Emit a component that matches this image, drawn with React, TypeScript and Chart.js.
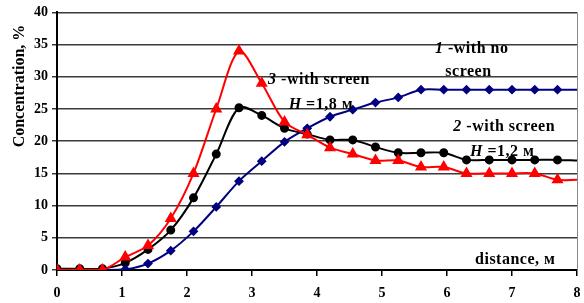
import React, { useEffect, useRef } from "react";
import { Chart, registerables } from "chart.js";

Chart.register(...registerables);

const distance = [0, 0.35, 0.7, 1.05, 1.4, 1.75, 2.1, 2.45, 2.8, 3.15, 3.5, 3.85, 4.2, 4.55, 4.9, 5.25, 5.6, 5.95, 6.3, 6.65, 7.0, 7.35, 7.7, 8];
const noScreen = [0, 0, 0, 0.1, 1, 3, 6, 9.8, 13.8, 16.9, 19.9, 22, 23.8, 24.9, 26, 26.8, 28, 28, 28, 28, 28, 28, 28, 28];
const screen12 = [0.2, 0.2, 0.2, 1.1, 3.2, 6.2, 11.2, 18, 25.2, 24, 22, 21.1, 20.2, 20.2, 19.1, 18.2, 18.2, 18.2, 17.1, 17.1, 17.1, 17.1, 17.1, 17];
const screen18 = [0, 0, 0, 2, 3.8, 8, 15, 25, 34, 29, 23, 21, 19, 18, 17, 17, 16, 16, 15, 15, 15, 15, 14, 14];
const xTicks = [0, 1, 2, 3, 4, 5, 6, 7, 8];
const yTicks = [0, 5, 10, 15, 20, 25, 30, 35, 40];

const FONT = "'Liberation Serif', 'Times New Roman', serif";

type Seg = { t: string; i?: boolean };
const notes: { x: number; y: number; segs: Seg[] }[] = [
  { x: 4.03, y: 29.5, segs: [{ t: "3", i: true }, { t: " -with screen" }] },
  { x: 4.06, y: 25.7, segs: [{ t: "H", i: true }, { t: " =1,8 м" }] },
  { x: 6.38, y: 34.3, segs: [{ t: "1", i: true }, { t: " -with no" }] },
  { x: 6.33, y: 30.8, segs: [{ t: "screen" }] },
  { x: 6.88, y: 22.3, segs: [{ t: "2", i: true }, { t: " -with screen" }] },
  { x: 6.85, y: 18.3, segs: [{ t: "H", i: true }, { t: " =1,2 м" }] },
  { x: 7.05, y: 1.5, segs: [{ t: "distance, м" }] },
];

const toPts = (ys: number[]) => distance.map((x, k) => ({ x, y: ys[k] }));
const radii = (r: number) => distance.map((_, k) => (k === distance.length - 1 ? 0 : r));

const overlay = {
  id: "overlay",
  afterDraw(chart: any) {
    const ctx = chart.ctx;
    const { right, top, bottom } = chart.chartArea;
    const xs = chart.scales.x;
    const ys = chart.scales.y;
    ctx.save();
    ctx.strokeStyle = "#888";
    ctx.lineWidth = 1;
    ctx.beginPath();
    ctx.moveTo(right + 0.5, top);
    ctx.lineTo(right + 0.5, bottom);
    ctx.stroke();
    ctx.fillStyle = "#000";
    ctx.font = `bold 16px ${FONT}`;
    ctx.textAlign = "center";
    ctx.textBaseline = "middle";
    ctx.translate(20, 86);
    ctx.rotate(-Math.PI / 2);
    ctx.fillText("Concentration, %", 0, 0);
    ctx.restore();

    ctx.save();
    ctx.fillStyle = "#000";
    ctx.textBaseline = "middle";
    ctx.textAlign = "left";
    try { (ctx as any).letterSpacing = "0.5px"; } catch (e) {}
    for (const n of notes) {
      const fonts = n.segs.map((s) => `${s.i ? "italic " : ""}bold 16px ${FONT}`);
      let total = 0;
      const widths = n.segs.map((s, k) => {
        ctx.font = fonts[k];
        const w = ctx.measureText(s.t).width;
        total += w;
        return w;
      });
      let px = xs.getPixelForValue(n.x) - total / 2;
      const py = ys.getPixelForValue(n.y);
      n.segs.forEach((s, k) => {
        ctx.font = fonts[k];
        ctx.fillText(s.t, px, py);
        px += widths[k];
      });
    }
    ctx.restore();
  },
};

export default function App() {
  const ref = useRef<HTMLCanvasElement | null>(null);
  useEffect(() => {
    document.body.style.margin = "0";
    const tickFont = { family: FONT, size: 14, weight: "bold" as const };
    const chart = new Chart(ref.current!, {
      type: "line",
      data: {
        datasets: [
          {
            label: "3 - with screen H=1,8 м",
            data: toPts(screen18),
            borderColor: "#ff0000",
            backgroundColor: "#ff0000",
            borderWidth: 2,
            pointStyle: "triangle",
            pointRadius: radii(5),
            tension: 0.3,
          },
          {
            label: "1 - with no screen",
            data: toPts(noScreen),
            borderColor: "#000080",
            backgroundColor: "#000080",
            borderWidth: 2,
            pointStyle: "rectRot",
            pointRadius: radii(3.5),
            tension: 0.3,
          },
          {
            label: "2 - with screen H=1,2 м",
            data: toPts(screen12),
            borderColor: "#000000",
            backgroundColor: "#000000",
            borderWidth: 2,
            pointStyle: "circle",
            pointRadius: radii(3.5),
            tension: 0.3,
          },
        ],
      },
      options: {
        responsive: false,
        animation: false,
        layout: { padding: { top: 10, right: 7, left: 0, bottom: 0 } },
        plugins: { legend: { display: false }, tooltip: { enabled: false } },
        scales: {
          x: {
            type: "linear",
            min: 0,
            max: 8,
            afterFit: (s: any) => { s.height = 33; s.paddingRight = 0; s.paddingLeft = 0; },
            afterBuildTicks: (s: any) => { s.ticks = xTicks.map((v) => ({ value: v })); },
            ticks: { font: tickFont, color: "#000", padding: 9, maxRotation: 0 },
            grid: { drawOnChartArea: false, drawTicks: true, tickLength: 6, color: "#000", lineWidth: 1.5 },
            border: { color: "#000", width: 2 },
          },
          y: {
            min: 0,
            max: 40,
            afterFit: (s: any) => { s.width = 57; },
            afterBuildTicks: (s: any) => { s.ticks = yTicks.map((v) => ({ value: v })); },
            ticks: { font: tickFont, color: "#000", padding: 4 },
            grid: { color: "#3a3a3a", lineWidth: 1.5, tickLength: 5 },
            border: { color: "#000", width: 2 },
          },
        },
      },
      plugins: [overlay],
    });
    return () => chart.destroy();
  }, []);
  return <canvas ref={ref} width={584} height={303} style={{ display: "block" }} />;
}
